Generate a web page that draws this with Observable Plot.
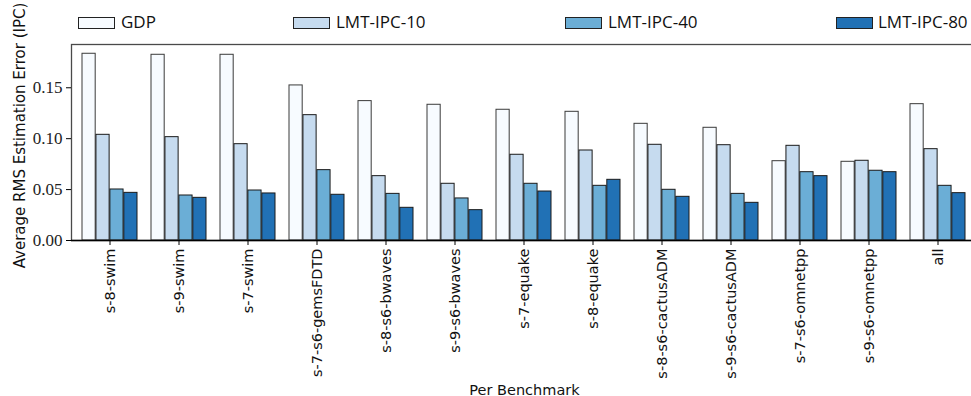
<!DOCTYPE html>
<html>
<head>
<meta charset="utf-8">
<script src="https://cdn.jsdelivr.net/npm/d3@7"></script>
<script src="https://cdn.jsdelivr.net/npm/@observablehq/plot@0.6"></script>
<style>
  html, body { margin: 0; padding: 0; background: #fff; overflow: hidden; width: 971px; height: 396px; }
  #wrap { position: relative; width: 971px; height: 396px; }
  #legend { position: absolute; left: 0; top: 0; height: 36px; width: 971px; font-family: "Open Sans", sans-serif; font-size: 17px; color: #111; z-index: 2; }
  #legend .sw { position: absolute; top: 17px; width: 37px; height: 12px; box-sizing: border-box; border: 1px solid #222; }
  #legend .lb { position: absolute; top: 11px; line-height: 22px; white-space: nowrap; }
  #chart svg { display: block; overflow: hidden; }
</style>
</head>
<body>
<div id="wrap">
<div id="chart"></div>
<div id="legend"></div>
</div>
<script>
const benchmarks = ["s-8-swim", "s-9-swim", "s-7-swim", "s-7-s6-gemsFDTD", "s-8-s6-bwaves", "s-9-s6-bwaves",
  "s-7-equake", "s-8-equake", "s-8-s6-cactusADM", "s-9-s6-cactusADM", "s-7-s6-omnetpp", "s-9-s6-omnetpp", "all"];
const gdp   = [0.1834, 0.1824, 0.1824, 0.1523, 0.1369, 0.1333, 0.1284, 0.1264, 0.1146, 0.1107, 0.0779, 0.0773, 0.1339];
const lmt10 = [0.1038, 0.1015, 0.0946, 0.1231, 0.0632, 0.0557, 0.0842, 0.0884, 0.0940, 0.0936, 0.0930, 0.0783, 0.0897];
const lmt40 = [0.0501, 0.0442, 0.0491, 0.0691, 0.0458, 0.0413, 0.0557, 0.0537, 0.0498, 0.0458, 0.0671, 0.0685, 0.0537];
const lmt80 = [0.0468, 0.0419, 0.0462, 0.0449, 0.0321, 0.0298, 0.0481, 0.0596, 0.0429, 0.0370, 0.0632, 0.0671, 0.0465];
const seriesNames = ["GDP", "LMT-IPC-10", "LMT-IPC-40", "LMT-IPC-80"];
const seriesColors = ["#f7fbff", "#c6dbef", "#6baed6", "#2171b5"];
const yTicks = [0, 0.05, 0.10, 0.15];
const yMax = 0.1925;

const seriesValues = [gdp, lmt10, lmt40, lmt80];
const data = [];
seriesNames.forEach((s, j) => benchmarks.forEach((b, i) => data.push({bench: b, series: s, value: seriesValues[j][i]})));

// legend (HTML overlay in the top strip)
const legendX = [[78, 121], [293, 336], [565, 608], [836, 878]];
const legend = document.getElementById("legend");
seriesNames.forEach((s, j) => {
  const sw = document.createElement("div");
  sw.className = "sw"; sw.style.left = legendX[j][0] + "px"; sw.style.background = seriesColors[j];
  const lb = document.createElement("div");
  lb.className = "lb"; lb.style.left = legendX[j][1] + "px"; lb.textContent = s;
  legend.appendChild(sw); legend.appendChild(lb);
});

const W = 971, H = 396, mL = 71, mR = -6, mT = 44, mB = 156;
const pIn = 0.2, pOut = 0.1;
const step = (W - mL - mR) / (benchmarks.length - pIn + 2 * pOut);
const sub = step * (1 - pIn) / seriesNames.length;

const sans = "'DejaVu Sans', sans-serif";
const serif = "'Liberation Serif', serif";
const yFmt = d3.format(".2f");
const yTitle = "Average RMS Estimation Error (IPC)";

const marks = [];
seriesNames.forEach((s, j) => {
  marks.push(Plot.barY(data.filter(d => d.series === s), {
    x: "bench", y: "value", fill: seriesColors[j], stroke: j === 0 ? "#3a3a3a" : "#1a1a1a", strokeWidth: 1,
    insetLeft: j * sub, insetRight: (seriesNames.length - 1 - j) * sub
  }));
});
marks.push(Plot.frame({stroke: "#4a4a4a", strokeWidth: 1.3}));
marks.push(Plot.ruleY([0], {stroke: "#000", strokeWidth: 1.3}));
marks.push(Plot.axisY({ticks: yTicks, tickFormat: yFmt, tickSize: 5, tickPadding: 4,
  fontSize: 17, label: null, stroke: "#000", fill: "#222"}));
marks.push(Plot.axisX({tickRotate: -90, tickSize: 5, tickPadding: 3, fontSize: 14.5,
  label: null, stroke: "#000", fill: "#111"}));
marks.push(Plot.text([yTitle], {frameAnchor: "left", dx: -51, dy: -7, rotate: -90,
  fontSize: 15, fill: "#111", textAnchor: "middle", lineAnchor: "middle"}));
marks.push(Plot.text(["Per Benchmark"], {frameAnchor: "bottom", dy: 154, fontSize: 14.5,
  fill: "#111", textAnchor: "middle", lineAnchor: "bottom"}));

const chart = Plot.plot({
  width: W, height: H, marginLeft: mL, marginRight: mR, marginTop: mT, marginBottom: mB,
  style: {background: "#fff", overflow: "hidden"},
  x: {type: "band", domain: benchmarks, paddingInner: pIn, paddingOuter: pOut, axis: null},
  y: {domain: [0, yMax], axis: null},
  marks
});
const yLabels = new Set(yTicks.map(yFmt));
d3.select(chart).selectAll("text").each(function() {
  const t = this.textContent;
  if (yLabels.has(t)) {
    this.style.fontFamily = serif; this.style.fontSize = "17px";
  } else if (t === yTitle) {
    this.style.fontFamily = sans; this.style.fontSize = "15px";
  } else {
    this.style.fontFamily = sans; this.style.fontSize = "14.5px";
  }
});
document.getElementById("chart").appendChild(chart);
</script>
</body>
</html>
